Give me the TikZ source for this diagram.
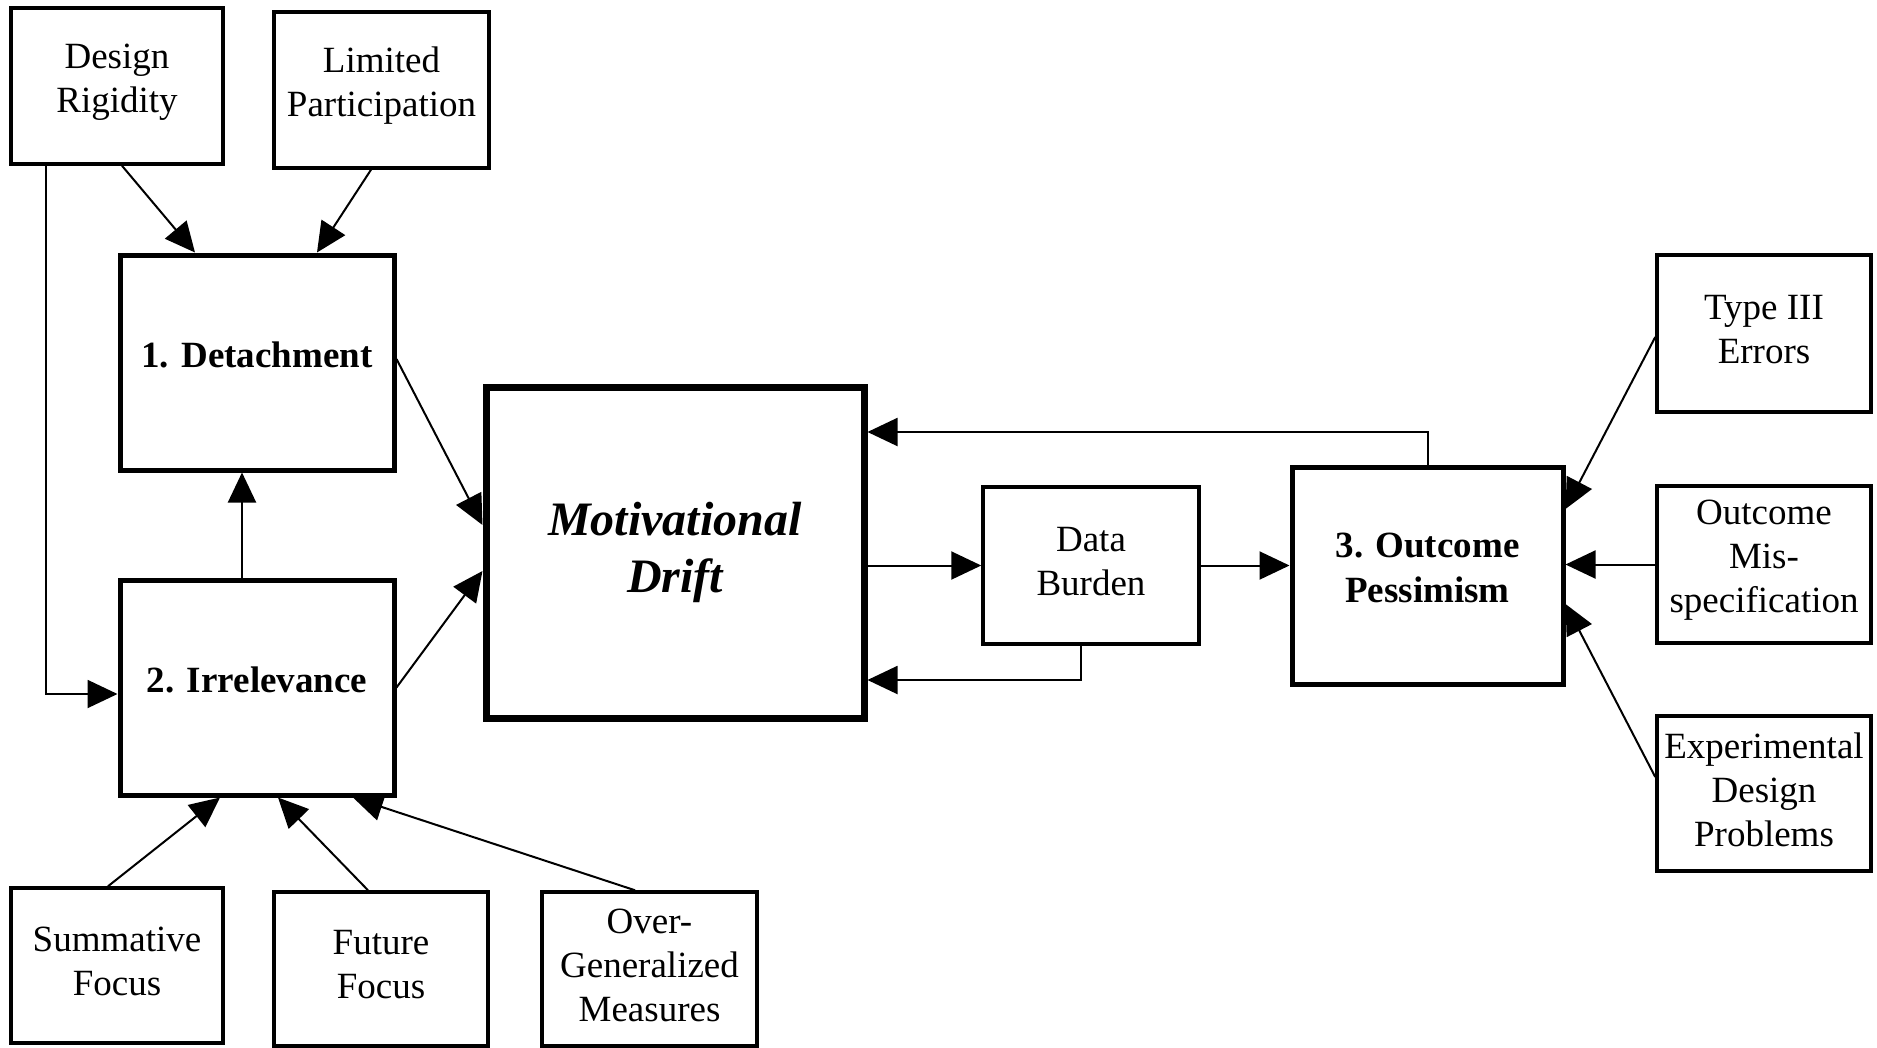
\documentclass[tikz,border=0pt]{standalone}
\usepackage{fontspec}
\setmainfont{Liberation Serif}
\usetikzlibrary{arrows.meta,calc}
\begin{document}
\begin{tikzpicture}[x=1pt,y=-1pt,
  smalltxt/.style={align=center, inner sep=0pt, yshift=4pt, font=\fontsize{37}{44}\selectfont},
  maintxt/.style={align=center, inner sep=0pt, yshift=7.5pt, font=\fontsize{37}{45}\selectfont\bfseries},
  box/.style={draw, line width=3.5pt, rectangle, inner sep=0pt, label={[smalltxt]center:{#1}}},
  mainbox/.style={draw, line width=5pt, rectangle, inner sep=0pt, label={[maintxt]center:{#1}}},
  drift/.style={draw, line width=7pt, rectangle, inner sep=0pt, align=center, font=\fontsize{48}{57}\selectfont\bfseries\itshape},
  conn/.style={line width=2pt, -{Triangle[length=30pt,width=28pt]}}]
\useasboundingbox (0,0) rectangle (1877,1047);
% small boxes
\node[box={Design\\Rigidity}, minimum width=212pt, minimum height=156pt] (DR) at (117,86) {};
\node[box={Limited\\Participation}, minimum width=215pt, minimum height=156pt] (LP) at (381.5,90) {};
\node[box={Summative\\Focus}, minimum width=212pt, minimum height=155pt] (SF) at (117,965.5) {};
\node[box={Future\\Focus}, minimum width=214pt, minimum height=154pt] (FF) at (381,969) {};
\node[box={Over-\\Generalized\\Measures}, minimum width=215pt, minimum height=154pt] (OGM) at (649.5,969) {};
\node[box={Data\\Burden}, minimum width=216pt, minimum height=157pt] (DB) at (1091,565.5) {};
\node[box={Type III\\Errors}, minimum width=214pt, minimum height=157pt] (T3) at (1764,333.5) {};
\node[box={Outcome\\Mis-\\specification}, minimum width=214pt, minimum height=157pt] (OMS) at (1764,564.5) {};
\node[box={Experimental\\Design\\Problems}, minimum width=214pt, minimum height=155pt] (EDP) at (1764,793.5) {};
% main boxes
\node[mainbox={1. Detachment}, minimum width=274pt, minimum height=215pt] (Det) at (257,362.5) {};
\node[mainbox={2. Irrelevance}, minimum width=274pt, minimum height=215pt] (Irr) at (257,687.5) {};
\node[mainbox={3. Outcome\\Pessimism}, minimum width=271pt, minimum height=217pt] (OP) at (1427.5,575.5) {};
\node[drift, minimum width=378pt, minimum height=331pt] (MD) at (675,552.5) {Motivational\\Drift};
% connectors
\draw[conn] ([xshift=5pt]DR.south) -- ([xshift=-62pt]Det.north);
\draw[conn] ([xshift=-10.5pt]LP.south) -- ([xshift=60pt]Det.north);
\draw[conn] ([xshift=-71pt]DR.south) |- ([yshift=-6.5pt]Irr.west);
\draw[conn] ([xshift=-15pt]Irr.north) -- ([xshift=-15pt]Det.south);
\draw[conn] ([yshift=3.5pt]Det.east) -- ([yshift=27.5pt]MD.west);
\draw[conn] (Irr.east) -- ([yshift=-18.5pt]MD.west);
\draw[conn] (MD.east |- DB.west) -- (DB.west);
\draw[conn] (DB.east) -- (DB.east -| OP.west);
\draw[conn] ([xshift=-10pt]DB.south) |- ([yshift=-127.5pt]MD.east);
\draw[conn] (OP.north) |- ([yshift=120.5pt]MD.east);
\draw[conn] ([yshift=-3.5pt]T3.west) -- ([yshift=66.5pt]OP.east);
\draw[conn] (OMS.west) -- (OMS.west -| OP.east);
\draw[conn] ([yshift=16.5pt]EDP.west) -- ([yshift=-28.5pt]OP.east);
\draw[conn] ([xshift=-9pt]SF.north) -- ([xshift=-37pt]Irr.south);
\draw[conn] ([xshift=-13pt]FF.north) -- ([xshift=21pt]Irr.south);
\draw[conn] ([xshift=-14.5pt]OGM.north) -- ([xshift=96pt]Irr.south);
\end{tikzpicture}
\end{document}
